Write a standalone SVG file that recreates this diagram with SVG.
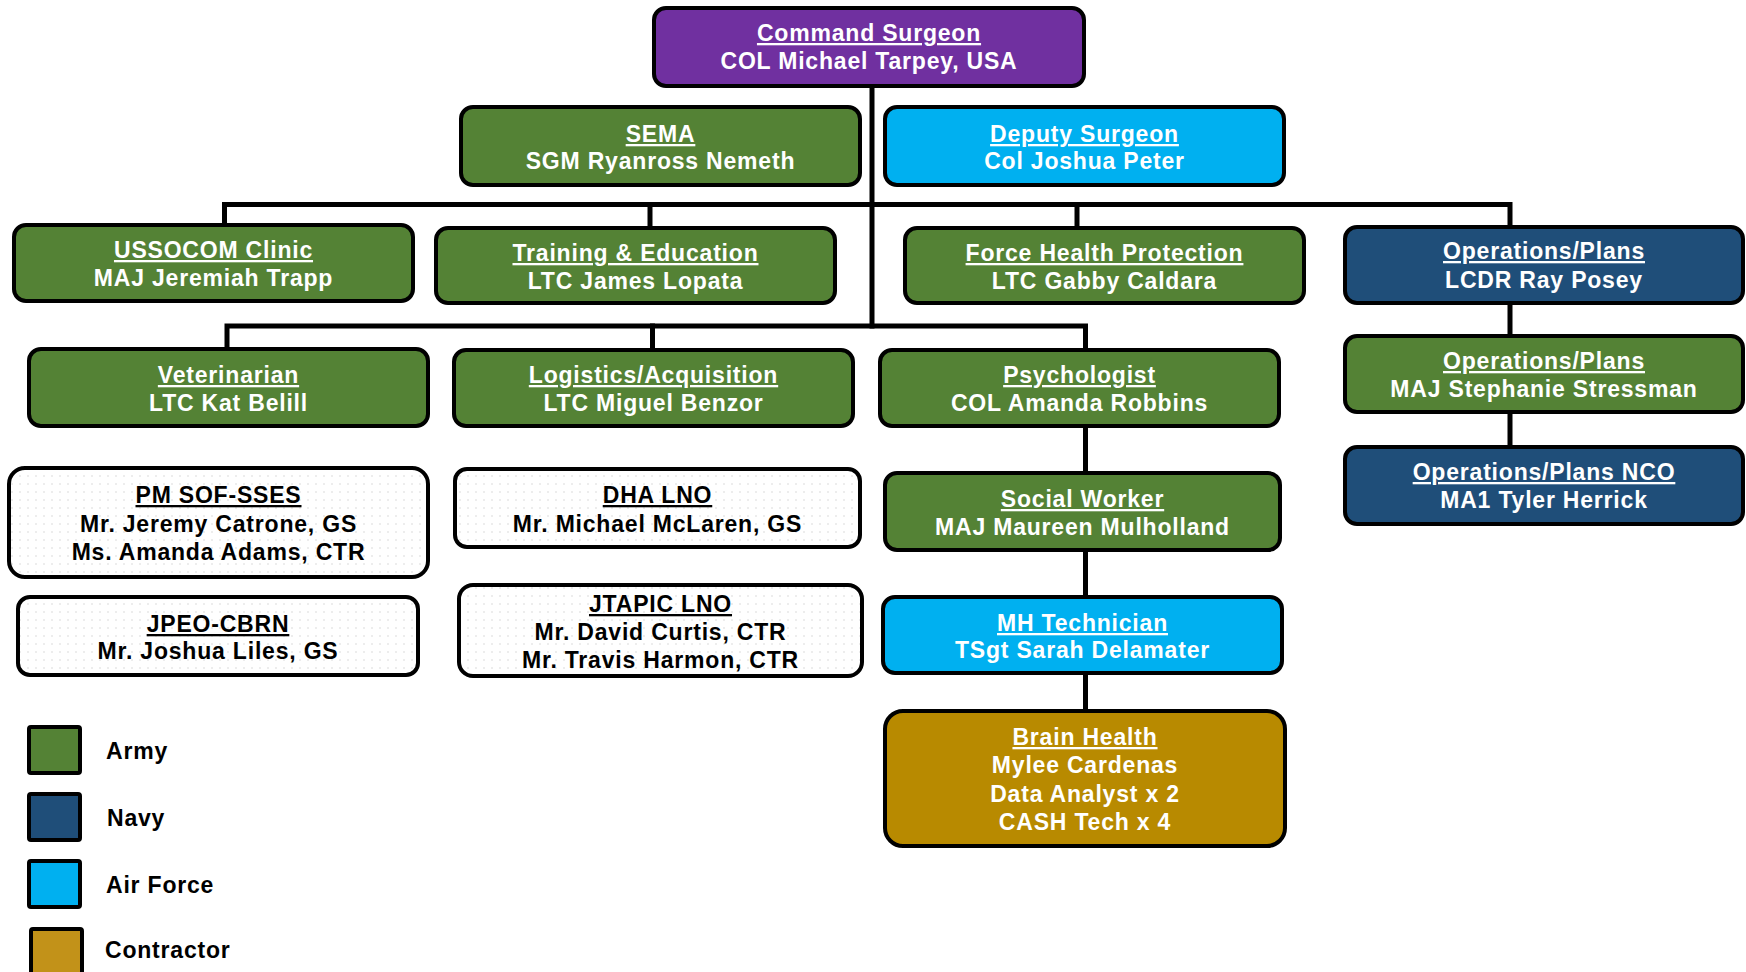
<svg xmlns="http://www.w3.org/2000/svg" width="1746" height="972" viewBox="0 0 1746 972">
<defs>
<pattern id="dots" width="8" height="8" patternUnits="userSpaceOnUse">
<rect width="8" height="8" fill="#ffffff"/>
<circle cx="4" cy="4" r="0.8" fill="#d8d8d8"/>
</pattern>
</defs>
<style>
.box{stroke:#000;stroke-width:4}
.army{fill:#548235}
.navy{fill:#1F4E79}
.af{fill:#00B0F0}
.cmd{fill:#7030A0}
.ctr{fill:#B88A00}
.civ{fill:url(#dots)}
text{font-family:"Liberation Sans",Arial,sans-serif;font-weight:bold;font-size:23px;letter-spacing:0.8px;text-anchor:middle}
.w{fill:#fff}
.k{fill:#000}
.t{text-decoration:underline}
.leg{text-anchor:start;fill:#000}
.conn{fill:none;stroke:#000;stroke-width:5;stroke-linecap:square;stroke-linejoin:miter}
</style>
<rect width="1746" height="972" fill="#fff"/>
<g id="connectors" class="conn">
<path d="M872 88 V326"/>
<path d="M224.5 223 V204.5 H1510 V225"/>
<path d="M650 204.5 V226"/>
<path d="M1077 204.5 V226"/>
<path d="M227 347 V326 H1085.5 V348"/>
<path d="M652.5 326 V348"/>
<path d="M1085.5 428 V709"/>
<path d="M1510 305 V445"/>
</g>
<g id="command-surgeon"><rect class="box cmd" x="654" y="8" width="430" height="78" rx="12"/><text class="w" x="869" y="41"><tspan class="t">Command Surgeon</tspan></text><text class="w" x="869" y="69">COL Michael Tarpey, USA</text></g>
<g id="sema"><rect class="box army" x="461" y="107" width="399" height="78" rx="12"/><text class="w" x="660.5" y="142"><tspan class="t">SEMA</tspan></text><text class="w" x="660.5" y="169">SGM Ryanross Nemeth</text></g>
<g id="deputy-surgeon"><rect class="box af" x="885" y="107" width="399" height="78" rx="12"/><text class="w" x="1084.5" y="142"><tspan class="t">Deputy Surgeon</tspan></text><text class="w" x="1084.5" y="169">Col Joshua Peter</text></g>
<g id="ussocom-clinic"><rect class="box army" x="14" y="225" width="399" height="76" rx="12"/><text class="w" x="213.5" y="258"><tspan class="t">USSOCOM Clinic</tspan></text><text class="w" x="213.5" y="286">MAJ Jeremiah Trapp</text></g>
<g id="training-education"><rect class="box army" x="436" y="228" width="399" height="75" rx="12"/><text class="w" x="635.5" y="261"><tspan class="t">Training &amp; Education</tspan></text><text class="w" x="635.5" y="289">LTC James Lopata</text></g>
<g id="force-health-protection"><rect class="box army" x="905" y="228" width="399" height="75" rx="12"/><text class="w" x="1104.5" y="261"><tspan class="t">Force Health Protection</tspan></text><text class="w" x="1104.5" y="289">LTC Gabby Caldara</text></g>
<g id="ops-plans-1"><rect class="box navy" x="1345" y="227" width="398" height="76" rx="12"/><text class="w" x="1544" y="259"><tspan class="t">Operations/Plans</tspan></text><text class="w" x="1544" y="288">LCDR Ray Posey</text></g>
<g id="ops-plans-2"><rect class="box army" x="1345" y="336" width="398" height="76" rx="12"/><text class="w" x="1544" y="369"><tspan class="t">Operations/Plans</tspan></text><text class="w" x="1544" y="397">MAJ Stephanie Stressman</text></g>
<g id="ops-plans-nco"><rect class="box navy" x="1345" y="447" width="398" height="77" rx="12"/><text class="w" x="1544" y="480"><tspan class="t">Operations/Plans NCO</tspan></text><text class="w" x="1544" y="508">MA1 Tyler Herrick</text></g>
<g id="veterinarian"><rect class="box army" x="29" y="349" width="399" height="77" rx="12"/><text class="w" x="228.5" y="383"><tspan class="t">Veterinarian</tspan></text><text class="w" x="228.5" y="411">LTC Kat Belill</text></g>
<g id="logistics-acquisition"><rect class="box army" x="454" y="350" width="399" height="76" rx="12"/><text class="w" x="653.5" y="383"><tspan class="t">Logistics/Acquisition</tspan></text><text class="w" x="653.5" y="411">LTC Miguel Benzor</text></g>
<g id="psychologist"><rect class="box army" x="880" y="350" width="399" height="76" rx="12"/><text class="w" x="1079.5" y="383"><tspan class="t">Psychologist</tspan></text><text class="w" x="1079.5" y="411">COL Amanda Robbins</text></g>
<g id="social-worker"><rect class="box army" x="885" y="473" width="395" height="77" rx="12"/><text class="w" x="1082.5" y="507"><tspan class="t">Social Worker</tspan></text><text class="w" x="1082.5" y="535">MAJ Maureen Mulholland</text></g>
<g id="mh-technician"><rect class="box af" x="883" y="597" width="399" height="76" rx="12"/><text class="w" x="1082.5" y="631"><tspan class="t">MH Technician</tspan></text><text class="w" x="1082.5" y="658">TSgt Sarah Delamater</text></g>
<g id="brain-health"><rect class="box ctr" x="885" y="711" width="400" height="135" rx="18"/><text class="w" x="1085" y="745"><tspan class="t">Brain Health</tspan></text><text class="w" x="1085" y="773">Mylee Cardenas</text><text class="w" x="1085" y="802">Data Analyst x 2</text><text class="w" x="1085" y="830">CASH Tech x 4</text></g>
<g id="pm-sof-sses"><rect class="box civ" x="9" y="468" width="419" height="109" rx="16"/><text class="k" x="218.5" y="503"><tspan class="t">PM SOF-SSES</tspan></text><text class="k" x="218.5" y="532">Mr. Jeremy Catrone, GS</text><text class="k" x="218.5" y="560">Ms. Amanda Adams, CTR</text></g>
<g id="jpeo-cbrn"><rect class="box civ" x="18" y="597" width="400" height="78" rx="12"/><text class="k" x="218" y="632"><tspan class="t">JPEO-CBRN</tspan></text><text class="k" x="218" y="659">Mr. Joshua Liles, GS</text></g>
<g id="dha-lno"><rect class="box civ" x="455" y="469" width="405" height="78" rx="12"/><text class="k" x="657.5" y="503"><tspan class="t">DHA LNO</tspan></text><text class="k" x="657.5" y="532">Mr. Michael McLaren, GS</text></g>
<g id="jtapic-lno"><rect class="box civ" x="459" y="585" width="403" height="91" rx="14"/><text class="k" x="660.5" y="612"><tspan class="t">JTAPIC LNO</tspan></text><text class="k" x="660.5" y="640">Mr. David Curtis, CTR</text><text class="k" x="660.5" y="668">Mr. Travis Harmon, CTR</text></g>
<g id="legend">
<rect class="box army" x="29" y="727" width="51" height="46" rx="2"/><text class="leg" x="106" y="759">Army</text>
<rect class="box navy" x="29" y="794" width="51" height="46" rx="2"/><text class="leg" x="107" y="826">Navy</text>
<rect class="box af" x="29" y="861" width="51" height="46" rx="2"/><text class="leg" x="106" y="893">Air Force</text>
<rect class="box" fill="#C29219" x="31" y="929" width="51" height="46" rx="2"/><text class="leg" x="105" y="958">Contractor</text>
</g>
</svg>
